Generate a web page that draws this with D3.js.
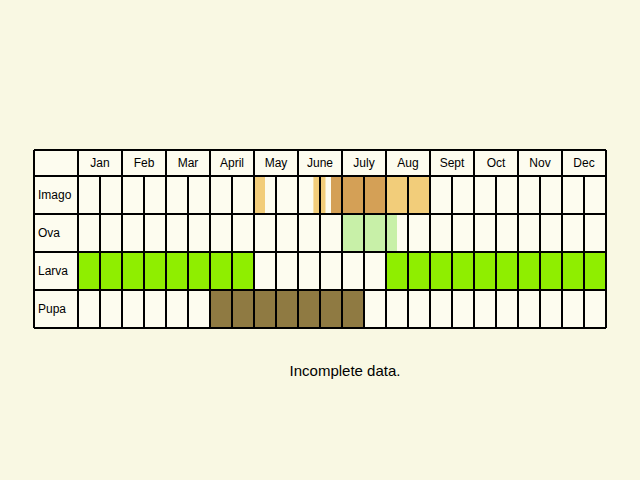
<!DOCTYPE html>
<html><head><meta charset="utf-8">
<script src="https://cdn.jsdelivr.net/npm/d3@7"></script>
<style>body{margin:0;background:#f9f8e3}</style></head>
<body><svg id="chart" width="640" height="480"></svg>
<script>
const months = ['Jan','Feb','Mar','Apr','May','June','July','Aug','Sept','Oct','Nov','Dec']
const monthLabels = ['Jan','Feb','Mar','April','May','June','July','Aug','Sept','Oct','Nov','Dec']
const stages = ['Imago','Ova','Larva','Pupa']
// segments in half-month units: [stage, start, end, colour key]
const imagoSegs = [[8, 8.5, 'light'], [10.7, 11.25, 'light'], [11.5, 14, 'dark'], [14, 16, 'light']]
const ovaSegs = [[12, 14.5, 'ova']]
const larvaSegs = [[0, 8, 'larva'], [14, 24, 'larva']]
const pupaSegs = [[6, 13, 'pupa']]
const colours = { light: '#f2cd7a', dark: '#d4a056', ova: '#c8f0a8', larva: '#8fee00', pupa: '#8f7a42' }

const svg = d3.select('#chart')
const x = d3.scaleLinear().domain([0, 24]).range([78, 606])
const y = d3.scaleBand().domain(['head'].concat(stages)).range([150, 328]).paddingInner(0)
// header is shorter than body rows
const rowTop = { head: 150, Imago: 176, Ova: 214, Larva: 252, Pupa: 290 }
const rowH = { head: 26, Imago: 38, Ova: 38, Larva: 38, Pupa: 38 }

svg.append('rect').attr('x', 34).attr('y', 150).attr('width', 572).attr('height', 178).attr('fill', '#fdfcef')

const segs = { Imago: imagoSegs, Ova: ovaSegs, Larva: larvaSegs, Pupa: pupaSegs }
stages.forEach(s => {
  svg.selectAll(null).data(segs[s]).enter().append('rect')
    .attr('x', d => x(d[0])).attr('width', d => x(d[1]) - x(d[0]))
    .attr('y', rowTop[s]).attr('height', rowH[s])
    .attr('fill', d => colours[d[2]])
})

const g = svg.append('g').attr('stroke', '#000').attr('stroke-width', 2)
// horizontal lines
;[150, 176, 214, 252, 290, 328].forEach(v => g.append('line').attr('x1', 34).attr('x2', 606).attr('y1', v).attr('y2', v))
g.append('line').attr('x1', 34).attr('x2', 34).attr('y1', 150).attr('y2', 328)
d3.range(25).forEach(i => {
  g.append('line').attr('x1', x(i)).attr('x2', x(i))
    .attr('y1', i % 2 === 0 ? 150 : 176).attr('y2', 328)
})

svg.selectAll('.m').data(monthLabels).enter().append('text')
  .attr('x', (d, i) => x(i * 2 + 1)).attr('y', 167).attr('text-anchor', 'middle')
  .attr('font-family', 'Liberation Sans, Arial, sans-serif').attr('font-size', 12).text(d => d)
svg.selectAll('.s').data(stages).enter().append('text')
  .attr('x', 38).attr('y', d => rowTop[d] + 23)
  .attr('font-family', 'Liberation Sans, Arial, sans-serif').attr('font-size', 12).text(d => d)
svg.append('text').attr('x', 345).attr('y', 376).attr('text-anchor', 'middle')
  .attr('font-family', 'Liberation Sans, Arial, sans-serif').attr('font-size', 15).text('Incomplete data.')
</script></body></html>
